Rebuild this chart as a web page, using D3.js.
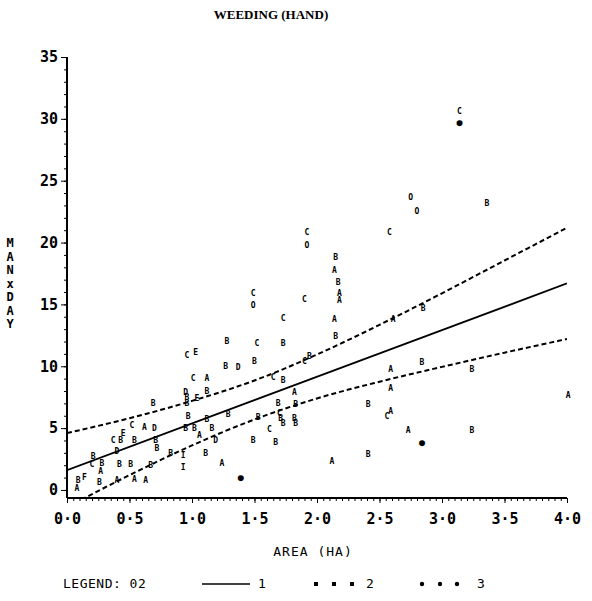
<!DOCTYPE html>
<html>
<head>
<meta charset="utf-8">
<script src="https://cdn.jsdelivr.net/npm/d3@7"></script>
<style>
  body { margin: 0; background: #fff; }
  text { fill: #000; }
</style>
</head>
<body>
<script>
var pointX = [0.08, 0.14, 0.09, 0.21, 0.20, 0.28, 0.27, 0.26, 0.40, 0.42, 0.51, 0.54, 0.63, 0.40, 0.37, 0.43, 0.45, 0.52, 0.54, 0.62, 0.70, 0.69, 0.71, 0.72, 0.67,
              0.83, 0.93, 0.93, 0.96, 1.03, 1.01, 1.12, 0.95, 0.96, 0.96, 1.04, 1.12, 0.97, 1.12, 0.95, 1.02, 1.16, 1.06, 1.11, 1.19, 1.24, 1.39, 1.28, 1.27, 1.37, 1.29, 1.49,
              1.49, 1.49, 1.52, 1.50, 1.53, 1.65, 1.73, 1.73, 1.73, 1.69, 1.83, 1.82, 1.70, 1.71, 1.73, 1.82, 1.83, 1.62, 1.67,
              1.92, 1.92, 1.90, 1.90, 1.94, 2.15, 2.14, 2.17, 2.18, 2.18, 2.14, 2.15, 2.12, 2.41, 2.41,
              2.58, 2.59, 2.59, 2.59, 2.56, 2.61, 2.73, 2.75, 2.80, 2.84, 2.84, 2.85, 3.14, 3.14, 3.24, 3.24, 3.36, 4.01];
var pointY = [0.15, 1.05, 0.8, 2.7, 2.1, 2.2, 1.5, 0.65, 0.8, 2.1, 2.1, 0.9, 0.8, 3.1, 4.0, 4.0, 4.6, 5.2, 4.0, 5.1, 5.0, 7.0, 4.0, 3.4, 2.0,
              3.0, 2.8, 1.8, 10.9, 11.1, 9.0, 9.0, 7.9, 7.5, 7.0, 7.4, 8.0, 6.0, 5.7, 5.0, 5.0, 5.0, 4.4, 3.0, 4.0, 2.2, 1.0, 12.0, 10.0, 9.9, 6.1, 4.0,
              15.9, 14.9, 11.9, 10.4, 5.9, 9.1, 8.9, 13.9, 11.9, 7.0, 6.9, 7.9, 6.2, 5.8, 5.4, 5.8, 5.4, 4.9, 3.9,
              20.8, 19.8, 15.4, 10.4, 10.8, 18.8, 17.8, 16.8, 15.9, 15.3, 13.8, 12.4, 2.3, 6.9, 2.9,
              20.8, 9.8, 8.2, 6.4, 6.0, 13.8, 4.8, 23.7, 22.5, 10.3, 3.8, 14.7, 30.6, 29.7, 9.8, 4.8, 23.2, 7.7];
var pointSym = ["A", "F", "B", "B", "C", "B", "A", "B", "A", "B", "B", "A", "A", "D", "C", "B", "E", "C", "B", "A", "D", "B", "B", "B", "B",
                "B", "I", "I", "C", "E", "C", "A", "D", "B", "B", "E", "B", "B", "B", "B", "B", "B", "A", "B", "D", "A", "●", "B", "B", "D", "B", "B",
                "C", "O", "C", "B", "B", "C", "B", "C", "B", "B", "B", "A", "C", "B", "B", "B", "B", "C", "B",
                "C", "O", "C", "C", "B", "B", "A", "B", "A", "A", "A", "B", "A", "B", "B",
                "C", "A", "A", "A", "C", "A", "A", "O", "O", "B", "●", "B", "C", "●", "B", "B", "B", "A"];

// regression line and its confidence limits
var fitX = [0, 4];
var fitY = [1.6, 16.7];
var bandX = [0, 0.5, 1.0, 1.5, 2.0, 2.5, 3.0, 3.5, 4.0];
var bandUpper = [4.6, 5.8, 7.2, 8.85, 10.95, 13.35, 15.9, 18.55, 21.2];
var bandLower = [-1.4, 1.2, 3.6, 5.7, 7.4, 8.75, 9.95, 11.1, 12.2];

var xTickValues = [0, 0.5, 1.0, 1.5, 2.0, 2.5, 3.0, 3.5, 4.0];
var yTickValues = [0, 5, 10, 15, 20, 25, 30, 35];

var width = 592, height = 601;
var mono = "'DejaVu Sans Mono', monospace";

var svg = d3.select("body").append("svg")
    .attr("width", width)
    .attr("height", height);

var x = d3.scaleLinear().domain([0, 4]).range([67, 567]);
var y = d3.scaleLinear().domain([-0.65, 35]).range([498, 57]);

// title
svg.append("text")
    .attr("x", 271).attr("y", 19)
    .attr("text-anchor", "middle")
    .style("font-family", "'Liberation Serif', serif")
    .style("font-weight", "bold")
    .style("font-size", "13px")
    .text("WEEDING (HAND)");

// y axis: major ticks every 5, minor every 1
var yAxis = d3.axisLeft(y)
    .tickValues(yTickValues)
    .tickSize(6)
    .tickPadding(3)
    .tickFormat(d3.format("d"));
var yMinor = d3.axisLeft(y)
    .tickValues(d3.range(0, 36, 1))
    .tickSize(3)
    .tickFormat("");

svg.append("g").attr("transform", "translate(67,0)").call(yMinor)
    .call(function(g) { g.select(".domain").remove(); });
var gy = svg.append("g").attr("transform", "translate(67,0)").call(yAxis);
gy.select(".domain").attr("d", "M0," + y(35) + "V498").style("stroke-width", 2);
gy.selectAll("text")
    .style("font-family", mono)
    .style("font-size", "15px")
    .style("font-weight", "bold");

// x axis: major ticks every 0.5, minor every 0.05
var xAxis = d3.axisBottom(x)
    .tickValues(xTickValues)
    .tickSize(5)
    .tickPadding(10)
    .tickFormat(function(d) { return d3.format(".1f")(d).replace(".", "·"); });
var xMinor = d3.axisBottom(x)
    .tickValues(d3.range(0, 80.5, 1).map(function(i) { return i * 0.05; }))
    .tickSize(3)
    .tickFormat("");

svg.append("g").attr("transform", "translate(0,498)").call(xMinor)
    .call(function(g) { g.select(".domain").remove(); });
var gx = svg.append("g").attr("transform", "translate(0,498)").call(xAxis);
gx.select(".domain").attr("d", "M67,0H567").style("stroke-width", 2);
gx.selectAll("text")
    .style("font-family", mono)
    .style("font-size", "15px")
    .style("font-weight", "bold");

// axis titles
svg.append("text")
    .attr("x", 313).attr("y", 556)
    .attr("text-anchor", "middle")
    .style("font-family", mono)
    .style("font-size", "13px")
    .style("letter-spacing", "1px")
    .text("AREA (HA)");

var yLabel = "MANxDAY".split("");
svg.append("g").selectAll("text")
    .data(yLabel)
    .enter()
    .append("text")
    .attr("x", 10)
    .attr("y", function(d, i) { return 247 + i * 13.5; })
    .attr("text-anchor", "middle")
    .style("font-family", mono)
    .style("font-size", "12px")
    .style("font-weight", "bold")
    .text(function(d) { return d; });

// clip for the lines
svg.append("clipPath").attr("id", "plotArea")
    .append("rect")
    .attr("x", 67).attr("y", 57)
    .attr("width", 500).attr("height", 441);

var line = d3.line()
    .x(function(d) { return x(d[0]); })
    .y(function(d) { return y(d[1]); });

var plot = svg.append("g").attr("clip-path", "url(#plotArea)");

plot.append("path")
    .datum(d3.zip(fitX, fitY))
    .attr("d", line)
    .attr("fill", "none")
    .attr("stroke", "#000")
    .attr("stroke-width", 1.8);

[bandUpper, bandLower].forEach(function(band) {
    plot.append("path")
        .datum(d3.zip(bandX, band))
        .attr("d", line.curve(d3.curveMonotoneX))
        .attr("fill", "none")
        .attr("stroke", "#000")
        .attr("stroke-width", 2)
        .attr("stroke-dasharray", "5,3");
});

// plotted symbols
svg.append("g").selectAll("text")
    .data(d3.range(pointX.length))
    .enter()
    .append("text")
    .attr("x", function(i) { return x(pointX[i]); })
    .attr("y", function(i) { return y(pointY[i]); })
    .attr("text-anchor", "middle")
    .attr("dy", "0.35em")
    .style("font-family", mono)
    .style("font-size", function(i) { return pointSym[i] === "●" ? "10px" : "8px"; })
    .style("font-weight", "bold")
    .text(function(i) { return pointSym[i]; });

// legend
var legendY = 588;
svg.append("text")
    .attr("x", 63).attr("y", legendY)
    .style("font-family", mono)
    .style("font-size", "13px")
    .style("letter-spacing", "0.5px")
    .text("LEGEND: 02");

svg.append("line")
    .attr("x1", 202).attr("x2", 250)
    .attr("y1", legendY - 4).attr("y2", legendY - 4)
    .attr("stroke", "#000").attr("stroke-width", 1.5);

var legendMarks = [
    { label: "1", x: 258 },
    { label: "2", x: 366 },
    { label: "3", x: 477 }
];
svg.append("g").selectAll("text")
    .data(legendMarks)
    .enter()
    .append("text")
    .attr("x", function(d) { return d.x; })
    .attr("y", legendY)
    .style("font-family", mono)
    .style("font-size", "13px")
    .text(function(d) { return d.label; });

svg.append("g").selectAll("rect")
    .data([316, 334, 352])
    .enter()
    .append("rect")
    .attr("x", function(d) { return d - 2; })
    .attr("y", legendY - 6)
    .attr("width", 4).attr("height", 4);

svg.append("g").selectAll("circle")
    .data([422, 440, 457])
    .enter()
    .append("circle")
    .attr("cx", function(d) { return d; })
    .attr("cy", legendY - 4)
    .attr("r", 2.2);
</script>
</body>
</html>
